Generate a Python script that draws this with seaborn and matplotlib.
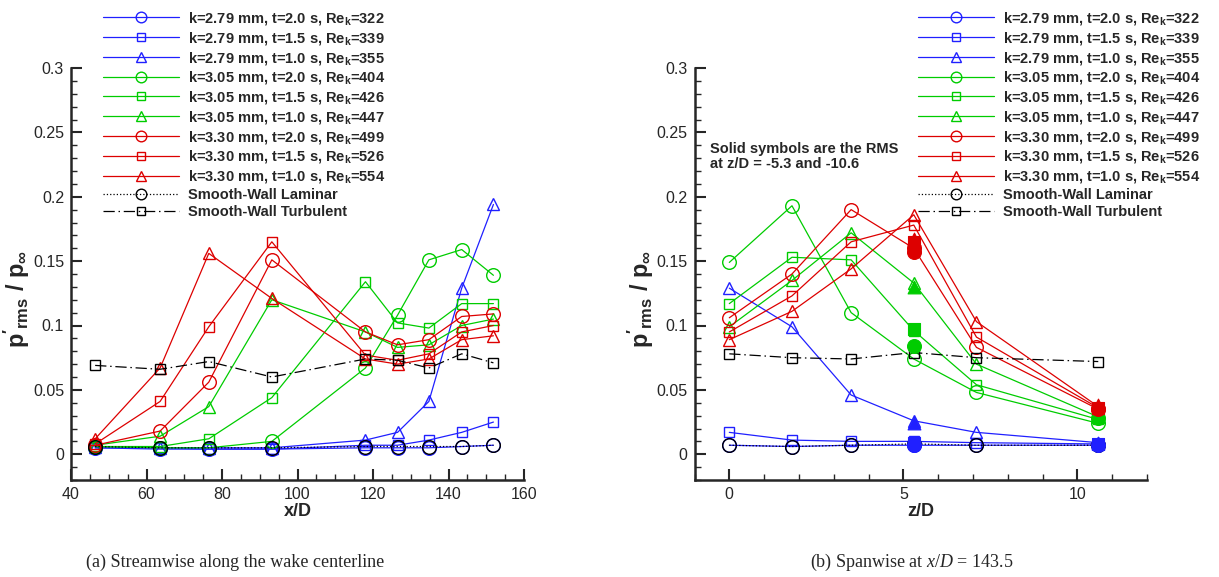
import numpy as np
import pandas as pd
import matplotlib
matplotlib.use("Agg")
import matplotlib.pyplot as plt
from matplotlib.ticker import MultipleLocator, FormatStrFormatter
import seaborn as sns

# ---------------- data ----------------
labels = [
    r"k=2.79 mm, t=2.0 s, Re$_\mathbf{k}$=322",
    r"k=2.79 mm, t=1.5 s, Re$_\mathbf{k}$=339",
    r"k=2.79 mm, t=1.0 s, Re$_\mathbf{k}$=355",
    r"k=3.05 mm, t=2.0 s, Re$_\mathbf{k}$=404",
    r"k=3.05 mm, t=1.5 s, Re$_\mathbf{k}$=426",
    r"k=3.05 mm, t=1.0 s, Re$_\mathbf{k}$=447",
    r"k=3.30 mm, t=2.0 s, Re$_\mathbf{k}$=499",
    r"k=3.30 mm, t=1.5 s, Re$_\mathbf{k}$=526",
    r"k=3.30 mm, t=1.0 s, Re$_\mathbf{k}$=554",
]
smooth_labels = ["Smooth-Wall Laminar", "Smooth-Wall Turbulent"]

# (a) streamwise along wake centerline
xD = [46.4, 63.6, 76.5, 93.2, 118.0, 126.5, 134.8, 143.5, 151.9]
a_k279_t20 = [0.005, 0.004, 0.004, 0.004, 0.005, 0.005, 0.005, 0.006, 0.007]
a_k279_t15 = [0.005, 0.005, 0.004, 0.004, 0.007, 0.007, 0.011, 0.017, 0.025]
a_k279_t10 = [0.006, 0.005, 0.005, 0.005, 0.011, 0.017, 0.041, 0.129, 0.194]
a_k305_t20 = [0.006, 0.005, 0.005, 0.010, 0.067, 0.108, 0.151, 0.159, 0.139]
a_k305_t15 = [0.006, 0.006, 0.012, 0.044, 0.134, 0.102, 0.098, 0.117, 0.117]
a_k305_t10 = [0.007, 0.014, 0.037, 0.120, 0.095, 0.083, 0.085, 0.100, 0.105]
a_k330_t20 = [0.007, 0.018, 0.056, 0.151, 0.095, 0.085, 0.089, 0.107, 0.109]
a_k330_t15 = [0.008, 0.041, 0.099, 0.165, 0.077, 0.073, 0.078, 0.095, 0.100]
a_k330_t10 = [0.012, 0.067, 0.156, 0.121, 0.074, 0.070, 0.074, 0.089, 0.092]
a_smooth_lam = [0.006, 0.005, 0.005, 0.005, 0.006, 0.006, 0.006, 0.006, 0.007]
a_smooth_turb = [0.069, 0.066, 0.072, 0.060, 0.074, 0.073, 0.067, 0.078, 0.071]

# (b) spanwise at x/D = 143.5
zD = [0.0, 1.8, 3.5, 5.3, 7.1, 10.6]
b_k279_t20 = [0.007, 0.006, 0.007, 0.007, 0.007, 0.007]
b_k279_t15 = [0.017, 0.011, 0.010, 0.010, 0.009, 0.008]
b_k279_t10 = [0.129, 0.099, 0.046, 0.026, 0.017, 0.009]
b_k305_t20 = [0.149, 0.193, 0.110, 0.074, 0.048, 0.024]
b_k305_t15 = [0.117, 0.153, 0.151, 0.096, 0.054, 0.027]
b_k305_t10 = [0.099, 0.135, 0.172, 0.133, 0.070, 0.029]
b_k330_t20 = [0.106, 0.140, 0.190, 0.160, 0.083, 0.035]
b_k330_t15 = [0.095, 0.123, 0.165, 0.178, 0.091, 0.036]
b_k330_t10 = [0.089, 0.111, 0.144, 0.186, 0.103, 0.037]
b_smooth_lam = [0.007, 0.006, 0.007, 0.008, 0.007, 0.007]
b_smooth_turb = [0.078, 0.075, 0.074, 0.079, 0.075, 0.072]

# solid symbols: RMS at z/D = -5.3 and -10.6 (plotted at 5.3, 10.6)
zD_solid = [5.3, 10.6]
s_k279_t20 = [0.007, 0.007]
s_k279_t15 = [0.009, 0.008]
s_k279_t10 = [0.024, 0.009]
s_k305_t20 = [0.084, 0.028]
s_k305_t15 = [0.097, 0.030]
s_k305_t10 = [0.130, 0.031]
s_k330_t20 = [0.157, 0.035]
s_k330_t15 = [0.165, 0.036]
s_k330_t10 = [0.167, 0.038]

caption_a = "(a) Streamwise along the wake centerline"
caption_b = r"(b) Spanwise at $x/D$ = 143.5"

# ---------------- style ----------------
sns.set_style("ticks")
plt.rcParams["font.family"] = ["Liberation Sans", "DejaVu Sans"]
plt.rcParams["mathtext.fontset"] = "custom"
plt.rcParams["mathtext.rm"] = "Liberation Serif"
plt.rcParams["mathtext.it"] = "Liberation Serif:italic"
plt.rcParams["mathtext.bf"] = "Liberation Sans:bold"

BLUE = "#2020ff"
GREEN = "#00cc00"
RED = "#dd0000"
colors = [BLUE] * 3 + [GREEN] * 3 + [RED] * 3
markers = ["o", "s", "^"] * 3
msize = {"o": 9.8, "s": 7.5, "^": 8.8}
smsize = {"o": 100, "s": 65, "^": 85}

a_series = [a_k279_t20, a_k279_t15, a_k279_t10, a_k305_t20, a_k305_t15,
            a_k305_t10, a_k330_t20, a_k330_t15, a_k330_t10]
b_series = [b_k279_t20, b_k279_t15, b_k279_t10, b_k305_t20, b_k305_t15,
            b_k305_t10, b_k330_t20, b_k330_t15, b_k330_t10]
s_series = [s_k279_t20, s_k279_t15, s_k279_t10, s_k305_t20, s_k305_t15,
            s_k305_t10, s_k330_t20, s_k330_t15, s_k330_t10]

fig = plt.figure(figsize=(12.19, 5.77), dpi=100)
axA = fig.add_axes([71 / 1219, 1 - 480 / 577, 453 / 1219, 412 / 577])
axB = fig.add_axes([694.5 / 1219, 1 - 480 / 577, 452.5 / 1219, 412 / 577])

dashdot = (0, (9, 3, 1.2, 3))


def draw(ax, x, series, lam, turb):
    for vals, c, m, lab in zip(series, colors, markers, labels):
        sns.lineplot(x=x, y=vals, ax=ax, color=c, marker=m, markersize=msize[m],
                     markerfacecolor="none", markeredgecolor=c, markeredgewidth=1.0,
                     linewidth=0.9, label=lab, legend=False)
    sns.lineplot(x=x, y=lam, ax=ax, color="black", marker="o", markersize=msize["o"],
                 markerfacecolor="none", markeredgecolor="black", markeredgewidth=1.0,
                 linewidth=0.9, linestyle=":", label=smooth_labels[0], legend=False)
    sns.lineplot(x=x, y=turb, ax=ax, color="black", marker="s", markersize=msize["s"],
                 markerfacecolor="none", markeredgecolor="black", markeredgewidth=1.0,
                 linewidth=0.9, linestyle=dashdot, label=smooth_labels[1], legend=False)


draw(axA, xD, a_series, a_smooth_lam, a_smooth_turb)
draw(axB, zD, b_series, b_smooth_lam, b_smooth_turb)

for vals, c, m in zip(s_series, colors, markers):
    sns.scatterplot(x=zD_solid, y=vals, ax=axB, color=c, marker=m, s=smsize[m],
                    edgecolor=c, linewidth=0.8, legend=False, zorder=5)

# axes formatting
for ax in (axA, axB):
    ax.set_ylim(-0.02, 0.3)
    ax.yaxis.set_major_locator(MultipleLocator(0.05))
    ax.yaxis.set_minor_locator(MultipleLocator(0.01))
    ax.yaxis.set_major_formatter(FormatStrFormatter("%g"))
    ax.tick_params(which="major", direction="in", length=8, width=1.5,
                   labelsize=11.5, pad=5)
    ax.tick_params(which="minor", direction="in", length=4.5, width=1.0)
    sns.despine(ax=ax)
    for sp in ("left", "bottom"):
        ax.spines[sp].set_linewidth(1.8)
    ax.set_ylabel(r"$\mathbf{p'_{rms}}$ / $\mathbf{p_{\infty}}$",
                  fontsize=17, fontweight="bold")
    ax.yaxis.set_label_coords(-0.085, 0.44)
    ax.set_facecolor("white")

axA.set_xlim(40, 160)
axA.xaxis.set_major_locator(MultipleLocator(20))
axA.xaxis.set_minor_locator(MultipleLocator(5))
axA.set_xlabel("x/D", fontsize=13, fontweight="bold", labelpad=1)

axB.set_xlim(-1, 12)
axB.xaxis.set_major_locator(MultipleLocator(5))
axB.xaxis.set_minor_locator(MultipleLocator(1))
axB.set_xlabel("z/D", fontsize=13, fontweight="bold", labelpad=1)

axB.text(-0.55, 0.2425, "Solid symbols are the RMS\nat z/D = -5.3 and -10.6",
         fontsize=10.5, fontweight="bold", va="top", ha="left", linespacing=1.05)

# legends
leg_kw = dict(loc="upper left", frameon=False, handlelength=5.2,
              handletextpad=0.6, labelspacing=0.19, borderpad=0, borderaxespad=0,
              markerscale=0.78, prop={"weight": "bold", "size": 10.5})
for ax, xpos in ((axA, 103 / 1219), (axB, 918 / 1219)):
    h, l = ax.get_legend_handles_labels()
    ax.legend(h, l, bbox_to_anchor=(xpos, 1 - 10 / 577),
              bbox_transform=fig.transFigure, **leg_kw)

fig.text(235 / 1219, 1 - 562 / 577, caption_a, family="Liberation Serif",
         fontsize=13, ha="center", va="center")
fig.text(912 / 1219, 1 - 562 / 577, caption_b, family="Liberation Serif",
         fontsize=13, ha="center", va="center")

fig.savefig("out.png", dpi=100, facecolor="white")
